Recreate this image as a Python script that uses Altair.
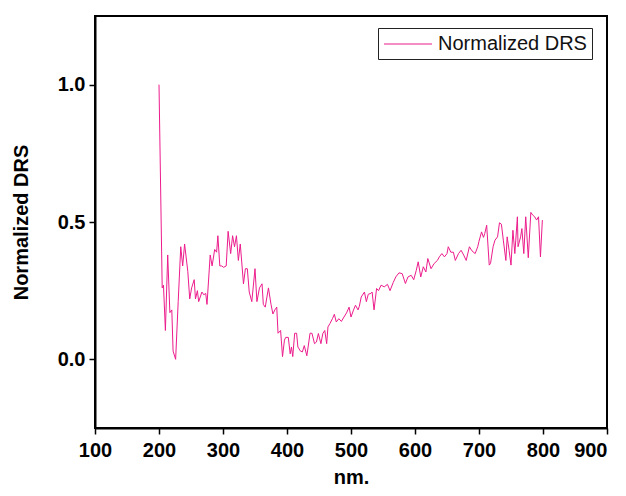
import altair as alt
import pandas as pd

wavelength = [200, 205, 207, 210, 213.6, 217, 220, 222, 226, 230, 234, 237, 240, 245, 248, 251, 255, 257, 260, 262,
              267, 270, 273, 275, 280, 283, 287, 290, 292, 295, 298, 301, 305, 308, 312, 315, 318, 321, 324, 327,
              332, 335, 338, 341, 345, 350, 353, 357, 361, 363, 366, 371, 375, 378, 381, 384, 386, 390, 393, 396,
              398, 402, 405, 407, 409, 412, 415, 417, 421, 424, 427, 431, 433, 436, 439, 443, 446, 449, 453, 456,
              459, 462, 464, 467, 471, 474, 477, 481, 485, 489, 493, 497, 500, 504, 507, 511, 513, 516, 521, 524,
              527, 531, 533, 536, 540, 543, 547, 552, 557, 561, 566, 570, 575, 580, 585, 589, 594, 598, 602, 605,
              609, 613, 617, 620, 625, 630, 635, 638, 642, 646, 650, 652, 656, 660, 663, 668, 672, 676, 680, 685,
              689, 694, 698, 700, 704, 707, 709, 712, 716, 718, 722, 725, 729, 732, 735, 738, 742, 744, 747, 750,
              753, 756, 760, 761, 765, 767, 770, 773, 777, 781, 784, 787, 790, 793, 796, 799]
drs = [1.0, 0.26, 0.27, 0.105, 0.38, 0.17, 0.18, 0.03, 0.0, 0.21, 0.41, 0.34, 0.42, 0.32, 0.22, 0.26, 0.29, 0.22, 0.25, 0.21,
       0.245, 0.235, 0.24, 0.2, 0.38, 0.34, 0.40, 0.39, 0.45, 0.34, 0.34, 0.335, 0.34, 0.466, 0.385, 0.45, 0.41, 0.45, 0.36, 0.42,
       0.275, 0.33, 0.33, 0.245, 0.21, 0.33, 0.21, 0.26, 0.275, 0.2, 0.19, 0.26, 0.2, 0.165, 0.18, 0.19, 0.095, 0.105, 0.01, 0.07,
       0.08, 0.08, 0.02, 0.045, 0.01, 0.095, 0.095, 0.045, 0.03, 0.027, 0.05, 0.013, 0.045, 0.095, 0.095, 0.057, 0.063, 0.094, 0.057, 0.094,
       0.105, 0.057, 0.118, 0.13, 0.148, 0.164, 0.136, 0.148, 0.138, 0.154, 0.169, 0.19, 0.154, 0.18, 0.197, 0.18, 0.193, 0.227, 0.245, 0.21,
       0.237, 0.24, 0.245, 0.18, 0.258, 0.25, 0.27, 0.264, 0.273, 0.25, 0.28, 0.3, 0.315, 0.312, 0.276, 0.3, 0.306, 0.29, 0.324, 0.355,
       0.3, 0.337, 0.318, 0.367, 0.33, 0.349, 0.36, 0.373, 0.385, 0.373, 0.385, 0.41, 0.39, 0.39, 0.36, 0.385, 0.397, 0.38, 0.36, 0.41,
       0.395, 0.385, 0.41, 0.43, 0.464, 0.444, 0.458, 0.488, 0.343, 0.349, 0.41, 0.434, 0.446, 0.497, 0.492, 0.434, 0.36, 0.446, 0.397, 0.343,
       0.47, 0.385, 0.519, 0.41, 0.446, 0.476, 0.385, 0.519, 0.37, 0.535, 0.525, 0.519, 0.507, 0.519, 0.373, 0.507]
series_name = "Normalized DRS"

df = pd.DataFrame({"nm": wavelength, "val": drs, "series": series_name})

FONT = "Liberation Sans"

chart = alt.Chart(df).mark_line(strokeWidth=1, clip=True).encode(
    x=alt.X("nm:Q", title="nm.", scale=alt.Scale(domain=[100, 900], nice=False),
            axis=alt.Axis(values=[100, 200, 300, 400, 500, 600, 700, 800, 900], format="d",
                          titlePadding=7, labelPadding=6, labelFlush=False, labelOverlap=False,
                          labelAlign={"condition": {"test": "datum.value == 900", "value": "right"},
                                      "value": "center"})),
    y=alt.Y("val:Q", title="Normalized DRS", scale=alt.Scale(domain=[-0.25, 1.25], nice=False),
            axis=alt.Axis(values=[0, 0.5, 1.0], format=".1f", titlePadding=26)),
    color=alt.Color("series:N", scale=alt.Scale(range=["#EC1C8C"]),
                    legend=alt.Legend(title=None, orient="none", legendX=283, legendY=12,
                                      symbolType="M-2.4,0H2.4", symbolSize=400, symbolStrokeWidth=1.2,
                                      symbolOffset=14,
                                      labelFontSize=20, labelFont=FONT, labelColor="#111",
                                      strokeColor="#222", padding=5, offset=0, labelOffset=19)),
).properties(
    width=512, height=412, autosize="none",
    padding={"left": 87, "top": 8, "right": 11, "bottom": 61},
).configure_view(
    stroke="black", strokeWidth=2
).configure_axis(
    grid=False, domainColor="black", domainWidth=2, tickColor="black", tickWidth=1.5, tickSize=6,
    labelFont=FONT, labelFontSize=20, labelFontWeight="bold", labelColor="black", labelPadding=4,
    titleFont=FONT, titleFontSize=20, titleFontWeight="bold", titleColor="black"
)

chart.save("out.html", embed_options={"renderer": "svg", "actions": False})
